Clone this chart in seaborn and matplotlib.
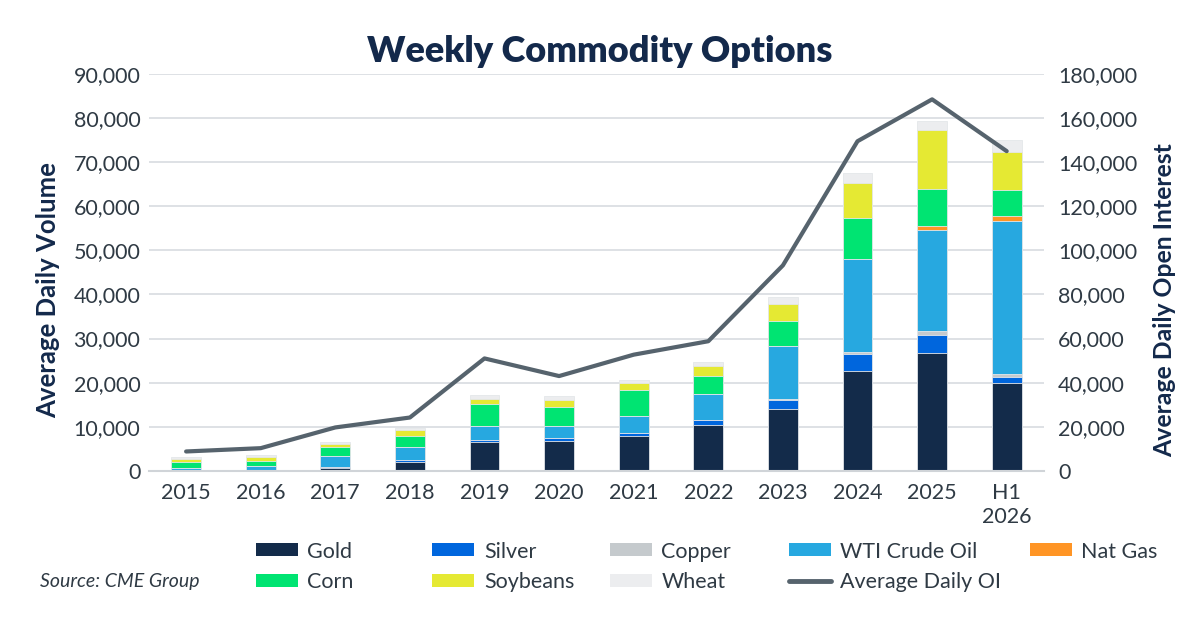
import numpy as np
import matplotlib.pyplot as plt
import seaborn as sns
from matplotlib.patches import Patch
from matplotlib.lines import Line2D
from matplotlib.ticker import FuncFormatter

# data
years = ["2015", "2016", "2017", "2018", "2019", "2020", "2021",
         "2022", "2023", "2024", "2025", "H1\n2026"]
gold = [0, 0, 750, 2100, 6600, 6700, 7800, 10500, 14000, 22600, 26800, 19850]
silver = [0, 0, 100, 300, 500, 700, 800, 1150, 2000, 3900, 3950, 1500]
copper = [0, 0, 0, 0, 0, 0, 0, 0, 350, 400, 900, 550]
wti = [750, 1150, 2550, 3100, 3000, 2750, 3850, 5850, 12050, 21050, 23050, 34700]
natgas = [0, 0, 0, 0, 0, 0, 0, 0, 0, 0, 750, 1100]
corn = [1150, 1150, 2050, 2350, 5100, 4250, 5850, 3950, 5550, 9450, 8550, 6000]
soybeans = [800, 800, 750, 1500, 1150, 1600, 1550, 2350, 3950, 7800, 13350, 8550]
wheat = [400, 400, 450, 450, 900, 900, 800, 800, 1500, 2400, 1950, 2750]
avg_oi = [8800, 10300, 19700, 24200, 51000, 43000, 52700, 58800, 93200, 149500, 168500, 145000]

series = [("Gold", gold, "#132b4a"),
          ("Silver", silver, "#0066dd"),
          ("Copper", copper, "#c5cacd"),
          ("WTI Crude Oil", wti, "#27a8e0"),
          ("Nat Gas", natgas, "#ff9525"),
          ("Corn", corn, "#00e472"),
          ("Soybeans", soybeans, "#e5e933"),
          ("Wheat", wheat, "#ecedef")]
oi_color = "#56636d"
navy = "#13294b"
txt = "#2f3a44"

sns.set_style("white")
plt.rcParams['font.family'] = ['Lato', 'DejaVu Sans']

fig = plt.figure(figsize=(12, 6.27), dpi=100)
ax = fig.add_axes([0.124, 0.249, 0.746, 0.633])

# stacked bars: draw cumulative totals from top down
cum = np.cumsum([s[1] for s in series], axis=0)
for i in range(len(series) - 1, -1, -1):
    sns.barplot(x=years, y=cum[i], color=series[i][2], saturation=1,
                width=0.4, edgecolor="#e4e7ea", linewidth=0.6, ax=ax)

ax.set_ylim(0, 90000)
ax.set_xlim(-0.5, len(years) - 0.5)
ax.set_yticks(np.arange(0, 90001, 10000))
ax.yaxis.set_major_formatter(FuncFormatter(lambda v, p: f"{int(v):,}"))
ax.yaxis.grid(True, color="#d8dce0", linewidth=1.2)
ax.set_axisbelow(True)
for s in ["top", "right", "left"]:
    ax.spines[s].set_visible(False)
ax.spines["bottom"].set_color("#d0d4d8")
ax.spines["bottom"].set_linewidth(1.5)
ax.tick_params(axis="both", length=0, labelsize=15.5, labelcolor=txt)
ax.tick_params(axis="y", pad=6)
ax.tick_params(axis="x", pad=9)
ax.set_xlabel("")
ax.set_ylabel("Average Daily Volume", fontsize=18.5, fontweight="bold",
              color=navy)
ax.yaxis.set_label_coords(-0.099, 0.455)

ax2 = ax.twinx()
sns.lineplot(x=np.arange(len(years)), y=avg_oi, color=oi_color,
             linewidth=3, ax=ax2)
ax2.set_ylim(0, 180000)
ax2.set_yticks(np.arange(0, 180001, 20000))
ax2.yaxis.set_major_formatter(FuncFormatter(lambda v, p: f"{int(v):,}"))
for s in ["top", "right", "left", "bottom"]:
    ax2.spines[s].set_visible(False)
ax2.tick_params(axis="y", length=0, labelsize=15.5, labelcolor=txt, pad=10)
ax2.set_ylabel("Average Daily Open Interest", fontsize=17.8, fontweight="bold",
               color=navy)
ax2.yaxis.set_label_coords(1.122, 0.43)

fig.text(0.5, 0.918, "Weekly Commodity Options", ha="center", va="center",
         fontsize=26, fontweight="heavy", color=navy)

# legend, laid out column by column
handles = {name: Patch(facecolor=c, edgecolor="none") for name, _, c in series}
handles["Average Daily OI"] = Line2D([], [], color=oi_color, linewidth=3.5)
columns = [["Gold", "Corn"], ["Silver", "Soybeans"], ["Copper", "Wheat"],
           ["WTI Crude Oil", "Average Daily OI"], ["Nat Gas"]]
col_x = [0.206, 0.353, 0.501, 0.650, 0.851]
for names, x in zip(columns, col_x):
    leg = fig.legend([handles[n] for n in names], names, loc="upper left",
                     bbox_to_anchor=(x, 0.15), frameon=False,
                     fontsize=15.5, handlelength=1.95, handleheight=0.55,
                     handletextpad=0.45, labelspacing=0.5, borderaxespad=0)
    for t in leg.get_texts():
        t.set_color(txt)

fig.text(0.033, 0.073, "Source: CME Group", fontsize=14, style="italic",
         color=txt, va="center")

fig.savefig("out.png", dpi=100)
